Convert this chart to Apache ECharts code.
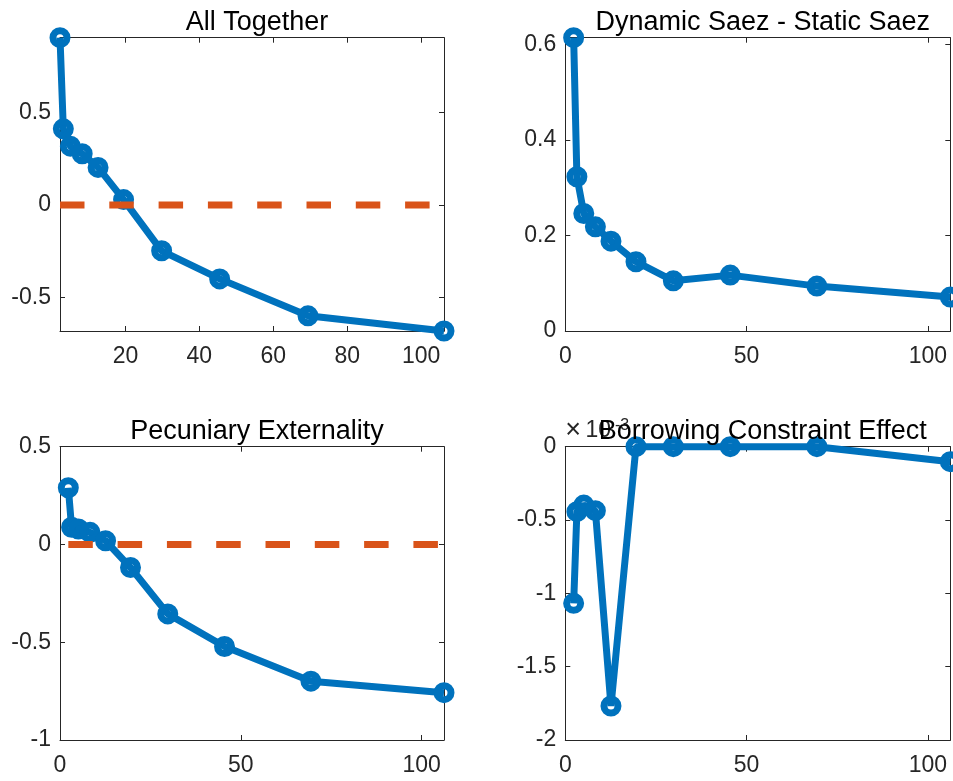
<!DOCTYPE html>
<html>
<head>
<meta charset="utf-8">
<script src="https://cdn.jsdelivr.net/npm/echarts@6/dist/echarts.min.js"></script>
<style>html,body{margin:0;padding:0;background:#fff}#c{width:953px;height:781px}</style>
</head>
<body>
<div id="c"></div>
<script>
// ---- data ----
const X = [2.3, 3.2, 5.1, 8.3, 12.6, 19.5, 29.8, 45.5, 69.4, 106.2];
const allTogether = [0.905, 0.412, 0.318, 0.277, 0.203, 0.029, -0.248, -0.400, -0.600, -0.682];
const dynamicMinusStatic = [0.614, 0.323, 0.246, 0.218, 0.188, 0.145, 0.105, 0.117, 0.094, 0.071];
const pecuniary = [0.290, 0.088, 0.079, 0.062, 0.019, -0.118, -0.355, -0.522, -0.699, -0.758];
const borrowing = [-1.068e-3, -0.443e-3, -0.398e-3, -0.436e-3, -1.768e-3, 0, 0, 0, 0, -0.102e-3];
const zeroLine = X.map(() => 0);

const titles = ['All Together', 'Dynamic Saez - Static Saez', 'Pecuniary Externality', 'Borrowing Constraint Effect'];
const xTicksFirst = [20, 40, 60, 80, 100];
const xTicksOther = [0, 50, 100];
const yTicks1 = [-0.5, 0, 0.5];
const yTicks2 = [0, 0.2, 0.4, 0.6];
const yTicks3 = [-1, -0.5, 0, 0.5];
const yTicks4 = [-2e-3, -1.5e-3, -1e-3, -0.5e-3, 0];

// ---- styling ----
const FONT = '"Liberation Sans", Arial, Helvetica, sans-serif';
const AX = '#262626';
const BLUE = '#0072BD';
const RED = '#D95319';
const LW = 7;

const grids = [
  {left: 60, top: 37.7, width: 384, height: 293.3},
  {left: 565.3, top: 37.7, width: 385, height: 293.3},
  {left: 60, top: 446.7, width: 384, height: 293.3},
  {left: 565.3, top: 446.7, width: 385, height: 293.3}
].map(g => Object.assign(g, {containLabel: false, outerBoundsMode: 'none'}));

const fmt = v => String(Math.round(v * 1e6) / 1e6);
const fmtE3 = v => String(Math.round(v * 1e4) / 10);

function axisCommon(ticks, showLabel, formatter, margin) {
  return {
    type: 'value',
    axisLine: {show: true, onZero: false, lineStyle: {color: AX, width: 1}},
    axisTick: {show: true, inside: true, length: 5, customValues: ticks, lineStyle: {color: AX, width: 1}},
    axisLabel: {show: showLabel, customValues: ticks, margin: margin, color: AX, fontSize: 23,
                fontFamily: FONT, formatter: formatter},
    splitLine: {show: false}
  };
}

const xMax = Math.max(...X);
const panels = [
  {xMin: Math.min(...X), xTicks: xTicksFirst, yMin: Math.min(...allTogether), yMax: Math.max(...allTogether), yTicks: yTicks1, y: allTogether, zero: true, f: fmt},
  {xMin: 0, xTicks: xTicksOther, yMin: 0, yMax: Math.max(...dynamicMinusStatic), yTicks: yTicks2, y: dynamicMinusStatic, zero: false, f: fmt},
  {xMin: 0, xTicks: xTicksOther, yMin: -1, yMax: 0.5, yTicks: yTicks3, y: pecuniary, zero: true, f: fmt},
  {xMin: 0, xTicks: xTicksOther, yMin: -2e-3, yMax: 0, yTicks: yTicks4, y: borrowing, zero: false, f: fmtE3}
];

const xAxis = [], yAxis = [], series = [], title = [];
panels.forEach((p, g) => {
  const xb = Object.assign(axisCommon(p.xTicks, true, fmt, 14), {gridIndex: g, position: 'bottom', min: p.xMin, max: xMax});
  const xt = Object.assign(axisCommon(p.xTicks, false, fmt, 14), {gridIndex: g, position: 'top', min: p.xMin, max: xMax});
  const yl = Object.assign(axisCommon(p.yTicks, true, p.f, 9), {gridIndex: g, position: 'left', min: p.yMin, max: p.yMax});
  const yr = Object.assign(axisCommon(p.yTicks, false, p.f, 9), {gridIndex: g, position: 'right', min: p.yMin, max: p.yMax});
  if (g === 3) {
    yl.name = '{x|×} {b|10}{s|-3}';
    yl.nameLocation = 'end';
    yl.nameGap = 3;
    yl.nameTextStyle = {
      align: 'left', verticalAlign: 'bottom', color: AX, fontFamily: FONT,
      rich: {
        x: {fontSize: 27, fontFamily: FONT, color: AX, lineHeight: 26, fontWeight: 'lighter'},
        b: {fontSize: 23, fontFamily: FONT, color: AX, lineHeight: 26, padding: [0, 0, 0, 1]},
        s: {fontSize: 16, fontFamily: FONT, color: AX, lineHeight: 26, verticalAlign: 'top', padding: [0, 0, 12, 4]}
      }
    };
  }
  xAxis.push(xb, xt);
  yAxis.push(yl, yr);
  series.push({
    type: 'line', xAxisIndex: 2 * g, yAxisIndex: 2 * g,
    data: X.map((x, i) => [x, p.y[i]]),
    lineStyle: {color: BLUE, width: LW},
    symbol: 'circle', symbolSize: 14, showSymbol: true,
    itemStyle: {color: 'rgba(0,0,0,0)', borderColor: BLUE, borderWidth: LW},
    clip: false, silent: true, z: 2
  });
  if (p.zero) {
    series.push({
      type: 'line', xAxisIndex: 2 * g, yAxisIndex: 2 * g,
      data: X.map((x, i) => [x, zeroLine[i]]),
      lineStyle: {color: RED, width: LW, type: [24.5, 24.8]},
      symbol: 'none', clip: false, silent: true, z: 3
    });
  }
  const gr = grids[g];
  title.push({
    text: titles[g],
    left: gr.left + gr.width / 2, textAlign: 'center',
    top: gr.top - 34,
    textStyle: {fontSize: 27, fontWeight: 'normal', color: '#000', fontFamily: FONT}
  });
});

const chart = echarts.init(document.getElementById('c'), null, {renderer: 'canvas'});
chart.setOption({
  animation: false,
  backgroundColor: '#fff',
  title: title,
  grid: grids,
  xAxis: xAxis,
  yAxis: yAxis,
  series: series
});
</script>
</body>
</html>
